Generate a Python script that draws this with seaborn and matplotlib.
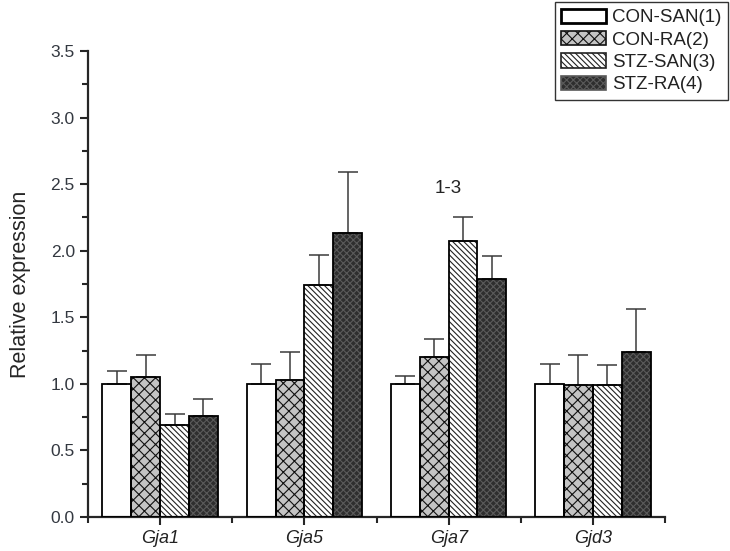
import pandas as pd
import matplotlib
matplotlib.use("Agg")
import matplotlib.pyplot as plt
import seaborn as sns
from matplotlib.patches import Patch, Rectangle
from matplotlib.ticker import MultipleLocator

# data
genes = ["Gja1", "Gja5", "Gja7", "Gjd3"]
groups = ["CON-SAN(1)", "CON-RA(2)", "STZ-SAN(3)", "STZ-RA(4)"]
con_san = [1.00, 1.00, 1.00, 1.00]
con_ra = [1.05, 1.03, 1.20, 0.99]
stz_san = [0.69, 1.74, 2.07, 0.99]
stz_ra = [0.76, 2.13, 1.79, 1.24]
con_san_err = [0.10, 0.15, 0.06, 0.15]
con_ra_err = [0.17, 0.21, 0.14, 0.23]
stz_san_err = [0.08, 0.23, 0.18, 0.15]
stz_ra_err = [0.13, 0.46, 0.17, 0.32]
annot_text = "1-3"
annot_gene = "Gja7"
annot_y = 2.47

means = [con_san, con_ra, stz_san, stz_ra]
errs = [con_san_err, con_ra_err, stz_san_err, stz_ra_err]

rows = []
for g, vals in zip(groups, means):
    for gene, v in zip(genes, vals):
        rows.append({"gene": gene, "group": g, "value": v})
df = pd.DataFrame(rows)

# fill, hatch, hatch colour for each group
styles = [
    ("white", "", "black"),
    ("#c4c4c4", "xxx", "#111111"),
    ("white", "\\\\\\\\\\\\", "#222222"),
    ("#2e2e2e", "xxxxx", "#5a5a5a"),
]

sns.set_style("ticks")
plt.rcParams["font.family"] = ["Liberation Sans", "DejaVu Sans"]
plt.rcParams["hatch.linewidth"] = 0.8

fig = plt.figure(figsize=(7.3, 5.51), dpi=100)
ax = fig.add_axes([88 / 730, 1 - 517 / 551, (665 - 88) / 730, (517 - 51) / 551])

sns.barplot(data=df, x="gene", y="value", hue="group", order=genes,
            hue_order=groups, width=0.8, errorbar=None, legend=False, ax=ax)

bar_sets = list(ax.containers)
for i, cont in enumerate(bar_sets):
    face, hatch, hcol = styles[i]
    xs = []
    tops = []
    for bar in cont:
        bar.set_facecolor(face)
        bar.set_hatch(hatch)
        bar.set_edgecolor(hcol)
        bar.set_linewidth(0)
        ax.add_patch(Rectangle(bar.get_xy(), bar.get_width(), bar.get_height(),
                               fill=False, edgecolor="black", linewidth=1.3, zorder=3))
        xs.append(bar.get_x() + bar.get_width() / 2)
        tops.append(bar.get_height())
    ax.errorbar(xs, tops, yerr=[[0] * len(tops), errs[i]], fmt="none",
                ecolor="#3a3a3a", elinewidth=1.1, capsize=7, capthick=1.1, zorder=2)

ax.text(genes.index(annot_gene), annot_y, annot_text, ha="center", va="center",
        fontsize=13.5, color="#222222")

ax.set_xlim(-0.5, len(genes) - 0.5)
ax.set_ylim(0, 3.5)
ax.yaxis.set_major_locator(MultipleLocator(0.5))
ax.yaxis.set_minor_locator(MultipleLocator(0.25))
ax.set_xticks(range(len(genes)))
ax.set_xticks([x - 0.5 for x in range(len(genes) + 1)], minor=True)
ax.set_xticklabels(genes, fontsize=13, style="italic", color="#222222")
ax.tick_params(axis="y", labelsize=12.5, labelcolor="#333840")
ax.tick_params(which="major", length=6, width=1.5, direction="out")
ax.tick_params(which="minor", length=4, width=1.5, direction="out")
ax.set_xlabel("")
ax.set_ylabel("Relative expression", fontsize=15.5, labelpad=14)
sns.despine(ax=ax)
for s in ["left", "bottom"]:
    ax.spines[s].set_linewidth(1.6)

handles = [Patch(facecolor=f, hatch=h, edgecolor=c, linewidth=1.2) for f, h, c in styles]
handles[0] = Patch(facecolor="white", edgecolor="black", linewidth=2)
leg = fig.legend(handles, groups, loc="upper right", bbox_to_anchor=(728 / 730, 1 - 2 / 551),
                 fontsize=13.5, frameon=True, fancybox=False, edgecolor="black",
                 handlelength=2.4, handleheight=0.8, handletextpad=0.3,
                 labelspacing=0.25, borderpad=0.35, borderaxespad=0)
leg.get_frame().set_linewidth(1.0)
for t in leg.get_texts():
    t.set_color("#222222")

fig.savefig("out.png", dpi=100)
